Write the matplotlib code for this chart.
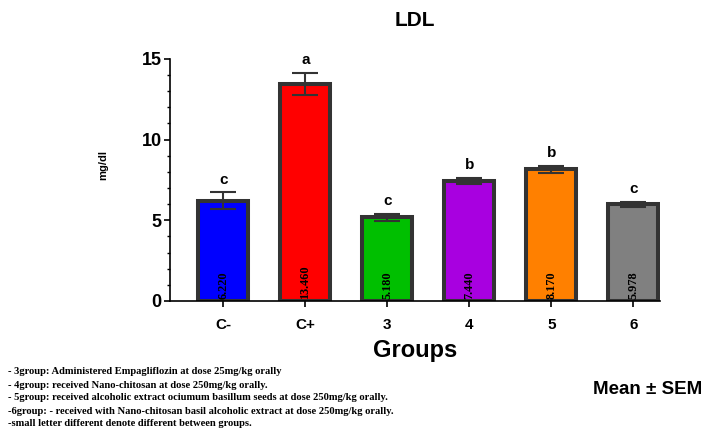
import matplotlib
matplotlib.use("Agg")
import matplotlib.pyplot as plt
from matplotlib.ticker import MultipleLocator

groups = ["C-", "C+", "3", "4", "5", "6"]
means = [6.220, 13.460, 5.180, 7.440, 8.170, 5.978]
sems = [0.50, 0.68, 0.23, 0.20, 0.22, 0.15]
letters = ["c", "a", "c", "b", "b", "c"]
value_labels = ["6.220", "13.460", "5.180", "7.440", "8.170", "5.978"]
colors = ["#0000FF", "#FF0000", "#00BF00", "#A800E0", "#FF8000", "#808080"]

notes = [
    "- 3group: Administered Empagliflozin at dose 25mg/kg orally",
    "- 4group: received Nano-chitosan at dose 250mg/kg orally.",
    "- 5group: received alcoholic extract ociumum basillum seeds at dose 250mg/kg orally.",
    "-6group: - received with Nano-chitosan basil alcoholic extract at dose 250mg/kg orally.",
    "-small letter different denote different between groups.",
]

sans = "Liberation Sans"
serif = "Liberation Serif"

fig = plt.figure(figsize=(7.24, 4.33), dpi=100)
ax = fig.add_axes([0.235, 0.305, 0.677, 0.559])

x = list(range(len(groups)))
ax.bar(x, means, width=0.61, color=colors, edgecolor="#333333",
       linewidth=2.9, zorder=2)
ax.errorbar(x, means, yerr=sems, fmt="none", ecolor="#333333",
            elinewidth=1.5, capsize=9.5, capthick=1.5, zorder=3)

for xi, m, s, lt, vl in zip(x, means, sems, letters, value_labels):
    ax.text(xi, m + s + 0.35, lt, ha="center", va="bottom",
            fontsize=11, fontweight="bold", family=sans)
    ax.text(xi, 0.12, vl, ha="center", va="bottom", rotation=90,
            fontsize=8.8, fontweight="bold", family=serif, zorder=4)

ax.set_xlim(-0.65, 5.33)
ax.set_ylim(0, 15)
ax.yaxis.set_major_locator(MultipleLocator(5))
ax.yaxis.set_minor_locator(MultipleLocator(1))
ax.set_xticks(x)
ax.set_xticklabels(groups, fontsize=11, fontweight="bold", family=sans)
for lab in ax.get_yticklabels():
    lab.set_fontsize(13)
    lab.set_fontweight("bold")
    lab.set_family(sans)

ax.spines["top"].set_visible(False)
ax.spines["right"].set_visible(False)
ax.spines["left"].set_linewidth(1.2)
ax.spines["bottom"].set_linewidth(1.2)
ax.tick_params(axis="both", which="major", length=4, width=1.2, pad=2)
ax.tick_params(axis="y", which="minor", length=2.5, width=1.0)
ax.tick_params(axis="x", pad=8)

ax.set_xlabel("Groups", fontsize=17, fontweight="bold", family=sans, labelpad=5)
fig.text(0.142, 0.62, "mg/dl", rotation=90, ha="center", va="center",
         fontsize=8, fontweight="bold", family=sans)
fig.text(0.573, 0.952, "LDL", ha="center", va="center",
         fontsize=15, fontweight="bold", family=sans)

y0 = 372
for i, line in enumerate(notes):
    fig.text(8 / 724, 1 - (y0 + 13 * i) / 433, line, ha="left", va="center",
             fontsize=7.6, fontweight="bold", family=serif)

fig.text(593 / 724, 1 - 389 / 433, "Mean \u00b1 SEM", ha="left", va="center",
         fontsize=13.5, fontweight="bold", family=sans)

fig.savefig("out.png", dpi=100)
